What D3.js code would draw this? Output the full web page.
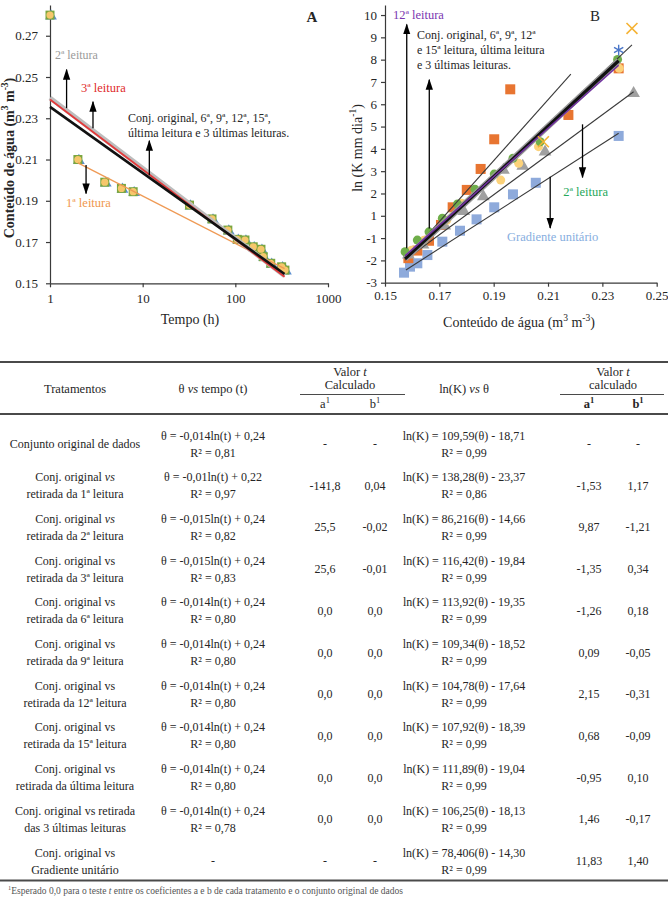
<!DOCTYPE html>
<html>
<head>
<meta charset="utf-8">
<script src="https://cdn.jsdelivr.net/npm/d3@7"></script>
<style>
body { margin: 0; background: #fff; }
svg { display: block; font-family: "Liberation Serif", "Times New Roman", serif; }
</style>
</head>
<body>
<svg width="668" height="897"></svg>
<script>
const svg = d3.select('svg')
const ink = '#262626'

// ---------- Figure A : theta vs time ----------
const aYTicks = [0.15, 0.17, 0.19, 0.21, 0.23, 0.25, 0.27]
const aXTicks = [1, 10, 100, 1000]
const aTime = [1, 2, 3.9, 5.9, 7.9, 32, 56, 83, 105, 127, 156, 189, 200, 241, 316, 343]
const aTheta = [0.280, 0.210, 0.199, 0.196, 0.1944, 0.1879, 0.1812, 0.1758, 0.1713, 0.1710, 0.1677, 0.1665, 0.1629, 0.1597, 0.1580, 0.1564]
// trend lines (start / end)
const aFit2a = [[1, 0.2399], [340, 0.1536]]
const aFit3a = [[1, 0.2391], [340, 0.1532]]
const aFitOrig = [[1, 0.2355], [340, 0.1545]]
const aFit1a = [[2, 0.2084], [340, 0.1571]]

// ---------- Figure B : ln K vs theta ----------
const bXTicks = [0.15, 0.17, 0.19, 0.21, 0.23, 0.25]
const bYTicks = [-2, -1, 0, 1, 2, 3, 4, 5, 6, 7, 8, 9, 10]
const bYLabels = ['-3', '-2', '-1', '1', '2', '3', '4', '5', '6', '7', '8', '9', '10']
const bBlueTheta = [0.1570, 0.1592, 0.1619, 0.1656, 0.1711, 0.1776, 0.1837, 0.1902, 0.1971, 0.2055, 0.2360]
const bBlueLnK = [-1.55, -1.28, -1.13, -0.76, -0.16, 0.33, 0.84, 1.38, 1.96, 2.48, 4.58]
const bOrangeTheta = [0.1586, 0.1619, 0.1662, 0.1706, 0.1749, 0.1801, 0.1852, 0.1902, 0.1961, 0.2175, 0.2360]
const bOrangeLnK = [-0.90, -0.56, -0.12, 0.59, 1.38, 2.16, 3.10, 4.43, 6.67, 5.52, 7.61]
const bGrayTheta = [0.1586, 0.1640, 0.1720, 0.1790, 0.1862, 0.1936, 0.2007, 0.2089, 0.2415]
const bGrayLnK = [-0.75, -0.30, 0.55, 1.20, 1.86, 3.05, 3.23, 3.87, 6.49]
const bYellowTheta = [0.1597, 0.1643, 0.1727, 0.1782, 0.1926, 0.1992, 0.2065, 0.2362]
const bYellowLnK = [-0.55, -0.10, 0.80, 1.56, 2.60, 3.35, 4.10, 7.61]
const bGreenTheta = [0.1574, 0.1619, 0.1662, 0.1711, 0.1767, 0.1831, 0.1902, 0.1971, 0.2071, 0.2356]
const bGreenLnK = [-0.61, -0.09, 0.28, 0.89, 1.53, 2.19, 2.87, 3.58, 4.32, 8.01]
const bCrossTheta = [0.2083, 0.2409]
const bCrossLnK = [4.32, 9.40]
const bStarTheta = [0.2360]
const bStarLnK = [8.43]
const bFitOrig = [[0.1574, -0.93], [0.2360, 7.95]]
const bFit12a = [[0.1574, -0.80], [0.2360, 7.75]]
const bFit1a = [[0.1580, -0.90], [0.2184, 7.35]]
const bFit3a = [[0.1574, -0.95], [0.2409, 8.66]]
const bFit2a = [[0.1574, -0.98], [0.2415, 6.56]]
const bFitGrad = [[0.1577, -1.43], [0.2360, 4.70]]

// ---------- Table ----------
const tTreat = [
  ['Conjunto original de dados'],
  ['Conj. original |vs|', 'retirada da 1ª leitura'],
  ['Conj. original |vs|', 'retirada da 2ª leitura'],
  ['Conj. original vs', 'retirada da 3ª leitura'],
  ['Conj. original vs', 'retirada da 6ª leitura'],
  ['Conj. original vs', 'retirada da 9ª leitura'],
  ['Conj. original vs', 'retirada da 12ª leitura'],
  ['Conj. original vs', 'retirada da 15ª leitura'],
  ['Conj. original vs', 'retirada da última leitura'],
  ['Conj. original vs retirada', 'das 3 últimas leituras'],
  ['Conj. original vs', 'Gradiente unitário']
]
const tThetaEq = ['θ = -0,014ln(t) + 0,24', 'θ = -0,01ln(t) + 0,22', 'θ = -0,015ln(t) + 0,24', 'θ = -0,015ln(t) + 0,24',
  'θ = -0,014ln(t) + 0,24', 'θ = -0,014ln(t) + 0,24', 'θ = -0,014ln(t) + 0,24', 'θ = -0,014ln(t) + 0,24',
  'θ = -0,014ln(t) + 0,24', 'θ = -0,014ln(t) + 0,24', '-']
const tThetaR2 = ['R² = 0,81', 'R² = 0,97', 'R² = 0,82', 'R² = 0,83', 'R² = 0,80', 'R² = 0,80', 'R² = 0,80',
  'R² = 0,80', 'R² = 0,80', 'R² = 0,78', '']
const tA1 = ['-', '-141,8', '25,5', '25,6', '0,0', '0,0', '0,0', '0,0', '0,0', '0,0', '-']
const tB1 = ['-', '0,04', '-0,02', '-0,01', '0,0', '0,0', '0,0', '0,0', '0,0', '0,0', '-']
const tLnkEq = ['ln(K) = 109,59(θ) - 18,71', 'ln(K) = 138,28(θ) - 23,37', 'ln(K) = 86,216(θ) - 14,66',
  'ln(K) = 116,42(θ) - 19,84', 'ln(K) = 113,92(θ) - 19,35', 'ln(K) = 109,34(θ) - 18,52', 'ln(K) = 104,78(θ) - 17,64',
  'ln(K) = 107,92(θ) - 18,39', 'ln(K) = 111,89(θ) - 19,04', 'ln(K) = 106,25(θ) - 18,13', 'ln(K) = 78,406(θ) - 14,30']
const tLnkR2 = ['R² = 0,99', 'R² = 0,86', 'R² = 0,99', 'R² = 0,99', 'R² = 0,99', 'R² = 0,99', 'R² = 0,99',
  'R² = 0,99', 'R² = 0,99', 'R² = 0,99', 'R² = 0,99']
const tA2 = ['-', '-1,53', '9,87', '-1,35', '-1,26', '0,09', '2,15', '0,68', '-0,95', '1,46', '11,83']
const tB2 = ['-', '1,17', '-1,21', '0,34', '0,18', '-0,05', '-0,31', '-0,09', '0,10', '-0,17', '1,40']

// text helper: |italic|  ^superscript^
const rich = (parent, x, y, str, size, anchor) => {
  const t = parent.append('text').attr('x', x).attr('y', y)
    .attr('font-size', size).attr('text-anchor', anchor || 'middle').attr('fill', ink)
  let back = 0
  str.split(/(\|[^|]*\||\^[^^]*\^)/).filter(s => s).forEach(s => {
    const sp = t.append('tspan')
    if (back) { sp.attr('dy', back); back = 0 }
    if (s[0] === '|') sp.attr('font-style', 'italic').text(s.slice(1, -1))
    else if (s[0] === '^') {
      const sh = size * 0.4
      sp.attr('dy', -sh).attr('font-size', size * 0.68).text(s.slice(1, -1))
      back = sh
    } else sp.text(s)
  })
  return t
}

const defs = svg.append('defs')
defs.append('marker').attr('id', 'arr')
  .attr('viewBox', '0 0 12 8').attr('refX', 11).attr('refY', 4)
  .attr('markerWidth', 11).attr('markerHeight', 8)
  .attr('markerUnits', 'userSpaceOnUse').attr('orient', 'auto')
  .append('path').attr('d', 'M0,0L12,4L0,8Z').attr('fill', '#000')

const styleAxis = g => {
  g.attr('font-family', null).attr('font-size', 13)
  g.selectAll('path, line').attr('stroke', '#3a3a3a').attr('stroke-width', 1.2)
  g.selectAll('text').attr('fill', ink)
}

// ===== A =====
const xA = d3.scaleLog().domain([1, 1000]).range([50, 328])
const yA = d3.scaleLinear().domain([0.15, 0.2849]).range([283.3, 5])
const gA = svg.append('g')

gA.append('g').attr('transform', 'translate(50,0)')
  .call(d3.axisLeft(yA).tickValues(aYTicks).tickFormat(d3.format('.2f')).tickSize(4).tickSizeOuter(0).tickPadding(8))
  .call(styleAxis)
gA.append('g').attr('transform', 'translate(0,283.3)')
  .call(d3.axisBottom(xA).tickValues(aXTicks).tickFormat(d3.format('d')).tickSize(4).tickSizeOuter(0).tickPadding(6))
  .call(styleAxis)

rich(gA, 0, 0, 'Conteúdo de água (m^3^ m^-3^)', 14, 'middle')
  .attr('font-weight', 'bold').attr('transform', 'translate(14,158) rotate(-90)')
rich(gA, 190, 324, 'Tempo (h)', 14, 'middle')

const ptsA = aTime.map((t, i) => [xA(t), yA(aTheta[i])])
gA.selectAll('path.tri').data(ptsA).enter().append('path')
  .attr('d', d3.symbol(d3.symbolTriangle, 60)).attr('transform', d => `translate(${d[0] + 1},${d[1] + 1})`)
  .attr('fill', '#5b8fd0')
gA.selectAll('rect.sq').data(ptsA).enter().append('rect')
  .attr('x', d => d[0] - 4.5).attr('y', d => d[1] - 4.5).attr('width', 9).attr('height', 9)
  .attr('fill', '#7aa63f')
gA.selectAll('circle.c').data(ptsA).enter().append('circle')
  .attr('cx', d => d[0]).attr('cy', d => d[1]).attr('r', 3.6).attr('fill', '#f6c76c')

const lineA = d3.line().x(d => xA(d[0])).y(d => yA(d[1]))
gA.append('path').attr('d', lineA(aFit1a)).attr('stroke', '#ef9a55').attr('stroke-width', 1.3).attr('fill', 'none')
gA.append('path').attr('d', lineA(aFit2a)).attr('stroke', '#bdbdbd').attr('stroke-width', 4.5).attr('fill', 'none')
gA.append('path').attr('d', lineA(aFit3a)).attr('stroke', '#e3393a').attr('stroke-width', 1.8).attr('fill', 'none')
gA.append('path').attr('d', lineA(aFitOrig)).attr('stroke', '#111').attr('stroke-width', 2.6).attr('fill', 'none')

const arrowA = (t, th0, th1) => gA.append('line')
  .attr('x1', xA(t)).attr('x2', xA(t)).attr('y1', yA(th0)).attr('y2', yA(th1))
  .attr('stroke', '#000').attr('stroke-width', 1.3).attr('marker-end', 'url(#arr)')
arrowA(1.51, 0.2349, 0.2536)
arrowA(2.91, 0.2252, 0.2380)
arrowA(11.8, 0.2024, 0.2191)
arrowA(2.45, 0.2073, 0.1935)

rich(gA, xA(1.13), yA(0.2588), '2ª leitura', 12, 'start').attr('fill', '#9a9a9a')
rich(gA, xA(2.16), yA(0.2426), '3ª leitura', 12.5, 'start').attr('fill', '#e02b2b')
rich(gA, xA(6.94), yA(0.2281), 'Conj. original, 6ª, 9ª, 12ª, 15ª,', 12, 'start')
rich(gA, xA(6.94), yA(0.2208), 'última leitura e 3 últimas leituras.', 12, 'start')
rich(gA, xA(1.49), yA(0.1870), '1ª leitura', 12.5, 'start').attr('fill', '#f0974d')
rich(gA, 312, 22, 'A', 15, 'middle').attr('font-weight', 'bold')

// ===== B =====
const xB = d3.scaleLinear().domain([0.15, 0.25]).range([385, 656.7])
const yB = d3.scaleLinear().domain([-2, 10.45]).range([282.7, 5])
const gB = svg.append('g')

gB.append('g').attr('transform', 'translate(385,0)')
  .call(d3.axisLeft(yB).tickValues(bYTicks).tickFormat((d, i) => bYLabels[i]).tickSize(4).tickSizeOuter(0).tickPadding(4))
  .call(styleAxis)
gB.append('g').attr('transform', 'translate(0,282.7)')
  .call(d3.axisBottom(xB).tickValues(bXTicks).tickFormat(d3.format('.2f')).tickSize(4).tickSizeOuter(0).tickPadding(4))
  .call(styleAxis)

rich(gB, 0, 0, 'ln (K mm dia^-1^)', 14, 'middle').attr('transform', 'translate(362,148) rotate(-90)')
rich(gB, 519, 327, 'Conteúdo de água (m^3^ m^-3^)', 14, 'middle')

const pts = (xs, ys) => xs.map((v, i) => [xB(v), yB(ys[i])])
gB.selectAll('rect.blue').data(pts(bBlueTheta, bBlueLnK)).enter().append('rect')
  .attr('x', d => d[0] - 5).attr('y', d => d[1] - 5).attr('width', 10).attr('height', 10).attr('fill', '#8eaadb')
gB.selectAll('rect.orange').data(pts(bOrangeTheta, bOrangeLnK)).enter().append('rect')
  .attr('x', d => d[0] - 5).attr('y', d => d[1] - 5).attr('width', 10).attr('height', 10).attr('fill', '#e87531')
gB.selectAll('path.gray').data(pts(bGrayTheta, bGrayLnK)).enter().append('path')
  .attr('d', d3.symbol(d3.symbolTriangle, 70)).attr('transform', d => `translate(${d[0]},${d[1]})`).attr('fill', '#a0a0a0')
gB.selectAll('circle.yellow').data(pts(bYellowTheta, bYellowLnK)).enter().append('circle')
  .attr('cx', d => d[0]).attr('cy', d => d[1]).attr('r', 4.5).attr('fill', '#fcd27a')
gB.selectAll('circle.green').data(pts(bGreenTheta, bGreenLnK)).enter().append('circle')
  .attr('cx', d => d[0]).attr('cy', d => d[1]).attr('r', 4.5).attr('fill', '#6fae4a')

const lineB = d3.line().x(d => xB(d[0])).y(d => yB(d[1]))
const thin = [bFit1a, bFit3a, bFit2a, bFitGrad]
thin.forEach(f => gB.append('path').attr('d', lineB(f)).attr('stroke', '#3a3a3a').attr('stroke-width', 1.1).attr('fill', 'none'))
gB.append('path').attr('d', lineB(bFitOrig)).attr('stroke', '#9a9a9a').attr('stroke-width', 6).attr('fill', 'none')
gB.append('path').attr('d', lineB(bFitOrig)).attr('stroke', '#111').attr('stroke-width', 3.2).attr('fill', 'none')
gB.append('path').attr('d', lineB(bFit12a)).attr('stroke', '#7030a0').attr('stroke-width', 1.6).attr('fill', 'none')

gB.selectAll('path.cross').data(pts(bCrossTheta, bCrossLnK)).enter().append('path')
  .attr('d', d3.symbol(d3.symbolTimes, 80)).attr('transform', d => `translate(${d[0]},${d[1]})`)
  .attr('fill', 'none').attr('stroke', '#f5b335').attr('stroke-width', 1.6)
gB.selectAll('path.star').data(pts(bStarTheta, bStarLnK)).enter().append('path')
  .attr('d', d3.symbol(d3.symbolAsterisk, 80)).attr('transform', d => `translate(${d[0]},${d[1]})`)
  .attr('fill', 'none').attr('stroke', '#4a76c8').attr('stroke-width', 1.4)

const arrowB = (th, v0, v1) => gB.append('line')
  .attr('x1', xB(th)).attr('x2', xB(th)).attr('y1', yB(v0)).attr('y2', yB(v1))
  .attr('stroke', '#000').attr('stroke-width', 1.3).attr('marker-end', 'url(#arr)')
arrowB(0.1580, -0.45, 9.58)
arrowB(0.1663, 0.43, 7.10)
arrowB(0.2227, 5.10, 2.72)
arrowB(0.2108, 2.75, 0.45)

rich(gB, xB(0.1529), yB(9.82), '12ª leitura', 12.5, 'start').attr('fill', '#7a36b0')
rich(gB, xB(0.1618), yB(8.92), 'Conj. original, 6ª, 9ª, 12ª', 12, 'start')
rich(gB, xB(0.1618), yB(8.25), 'e 15ª leitura, última leitura', 12, 'start')
rich(gB, xB(0.1618), yB(7.58), 'e 3 últimas leituras.', 12, 'start')
rich(gB, xB(0.2156), yB(1.88), '2ª leitura', 12.5, 'start').attr('fill', '#25a85a')
rich(gB, xB(0.1949), yB(-0.12), 'Gradiente unitário', 12.5, 'start').attr('fill', '#86aee0')
rich(gB, 595, 21, 'B', 15, 'middle')

// ===== Table =====
const gT = svg.append('g')
const col = { treat: 75, theta: 213, a1: 325, b1: 375, lnk: 464, a2: 589, b2: 638 }
const rule = (x1, x2, y, w) => gT.append('line').attr('x1', x1).attr('x2', x2).attr('y1', y).attr('y2', y)
  .attr('stroke', '#4a4a4a').attr('stroke-width', w)

rule(0, 668, 362, 2.2)
rule(300, 405, 394.5, 1.2)
rule(560, 664, 394.5, 1.2)
rule(0, 668, 414, 2)
rule(0, 668, 880.5, 2)

rich(gT, col.treat, 393, 'Tratamentos', 12.5)
rich(gT, col.theta, 393, 'θ  |vs| tempo (t)', 12.5)
rich(gT, 350, 376, 'Valor |t|', 12.5)
rich(gT, 350, 389, 'Calculado', 12.5)
rich(gT, col.a1, 408, 'a^1^', 12.5)
rich(gT, col.b1, 408, 'b^1^', 12.5)
rich(gT, col.lnk, 393, 'ln(K) |vs| θ', 12.5)
rich(gT, 613, 376, 'Valor |t|', 12.5)
rich(gT, 613, 389, 'calculado', 12.5)
rich(gT, col.a2, 408, 'a^1^', 12.5).attr('font-weight', 'bold')
rich(gT, col.b2, 408, 'b^1^', 12.5).attr('font-weight', 'bold')

const rowY = d3.scalePoint().domain(d3.range(tTreat.length)).range([444, 861])
const cell = (x, cy, lines) => {
  const ls = lines.filter(s => s !== '')
  if (ls.length === 1) rich(gT, x, cy + 4, ls[0], 12)
  else ls.forEach((s, k) => rich(gT, x, cy - 4.5 + k * 17, s, 12))
}
tTreat.forEach((tr, i) => {
  const cy = rowY(i)
  cell(col.treat, cy, tr)
  cell(col.theta, cy, [tThetaEq[i], tThetaR2[i]])
  cell(col.a1, cy, [tA1[i]])
  cell(col.b1, cy, [tB1[i]])
  cell(col.lnk, cy, [tLnkEq[i], tLnkR2[i]])
  cell(col.a2, cy, [tA2[i]])
  cell(col.b2, cy, [tB2[i]])
})

rich(gT, 8, 894, '^1^Esperado 0,0 para o teste |t| entre os coeficientes a e b de cada tratamento e o conjunto original de dados', 9.5, 'start')
  .attr('fill', '#555')
</script>
</body>
</html>
